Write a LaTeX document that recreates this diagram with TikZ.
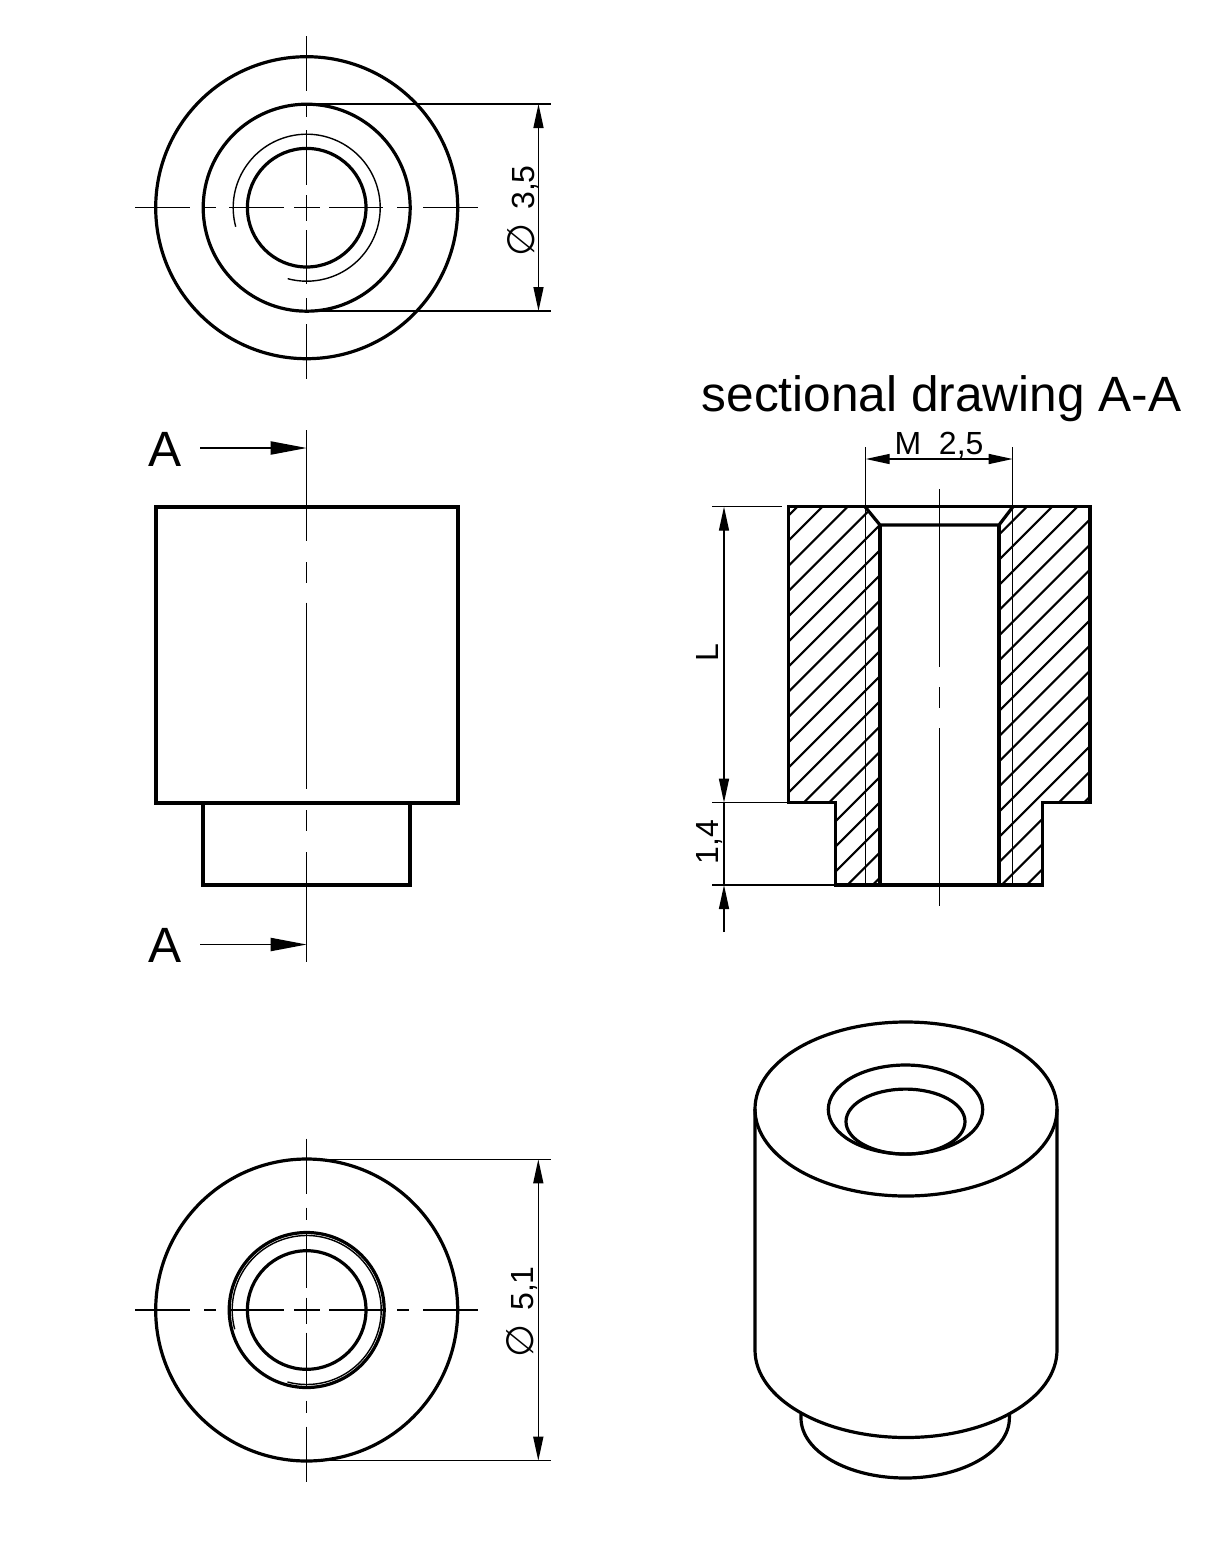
\RequirePackage{fix-cm}
\documentclass[tikz,border=0pt]{standalone}
\usepackage{fontspec}
\setmainfont{Liberation Sans}
\newfontfamily\phifont{DejaVu Sans}
\newcommand{\diam}{{\phifont\fontsize{19}{19}\selectfont ∅}}
\usetikzlibrary{arrows.meta}
\tikzset{
  outl/.style={line width=1.6pt,line join=miter},
  thinl/.style={line width=0.7pt},
  hatchl/.style={line width=1.05pt},
  dimarrow/.style={line width=0.7pt,{Triangle[length=12pt,width=5pt]}-{Triangle[length=12pt,width=5pt]}},
  endarrow/.style={line width=0.7pt,-{Triangle[length=12pt,width=5pt]}},
  cutarrow/.style={line width=0.7pt,-{Triangle[length=18pt,width=6.6pt]}},
  roundcl/.style={thinl,dash pattern=on 27.5pt off 7pt on 6pt off 6.5pt on 27.5pt off 5pt on 13pt off 4.5pt on 27pt off 7pt on 6pt off 7pt on 27.5pt},
  sidecl/.style={thinl,dash pattern=on 55.5pt off 10.5pt on 10.5pt off 9.75pt on 93.25pt off 10.5pt on 10.5pt off 10.5pt on 60pt},
  sectcl/.style={thinl,dash pattern=on 89pt off 10pt on 10.5pt off 10pt on 89pt},
  dimtext/.style={inner sep=0pt,anchor=base,font=\fontsize{16}{18}\selectfont},
  bigtext/.style={inner sep=0pt,anchor=base,font=\fontsize{24.8}{28}\selectfont}
}
\begin{document}
\begin{tikzpicture}[x=0.5pt,y=-0.5pt]
\useasboundingbox (0,0) rectangle (1229,1558);
% ---------- top view
\coordinate (tc) at (306.7,207.7);
\draw[outl] (tc) circle[radius=151];
\draw[outl] (tc) circle[radius=103.5];
\draw[outl] (tc) circle[radius=59.3];
\draw[thinl] (tc) ++(-195:73.5) arc[start angle=-195,end angle=105,radius=73.5];
\draw[roundcl] (135,207.7) -- (478,207.7);
\draw[roundcl] (306.7,36) -- (306.7,379);
\coordinate (ta) at (551,104);
\coordinate (tb) at (551,311);
\draw[thinl] (306.7,104) -- (ta);
\draw[thinl] (306.7,311) -- (tb);
\draw[dimarrow] (538.5,104) -- (538.5,311);
\node[dimtext,rotate=90] (dimA) at (534,211) {\diam\hspace{7pt}3,5};
% ---------- side view
\draw[outl] (156,507) rectangle (458,803);
\draw[outl] (203,803) -- (203,885) -- (410,885) -- (410,803);
\draw[sidecl] (306.7,430) -- (306.7,962);
\coordinate (a1) at (306.7,448);
\coordinate (a2) at (306.7,944.5);
\draw[cutarrow] (200,448) -- (a1);
\draw[cutarrow] (200,944.5) -- (a2);
\node[bigtext] (lblA1) at (165,466) {A};
\node[bigtext] (lblA2) at (165,962) {A};
% ---------- section
\node[bigtext] (title) at (941.5,411) {sectional drawing A-A};
\begin{scope}
\clip (788.3,506.7) -- (865,506.7) -- (880,525) -- (880,885) -- (835.7,885) -- (835.7,802.7) -- (788.3,802.7) -- cycle;
\foreach \k in {0,...,18} {
  \pgfmathsetmacro\c{1304+25.2*\k}
  \draw[hatchl] ({700},{\c-700}) -- ({1200},{\c-1200});
}
\end{scope}
\begin{scope}
\clip (1013,506.7) -- (999,525) -- (999,885) -- (1042.7,885) -- (1042.7,802.7) -- (1090,802.7) -- (1090,506.7) -- cycle;
\foreach \k in {-5,...,13} {
  \pgfmathsetmacro\c{1609.3+25.2*\k}
  \draw[hatchl] ({900},{\c-900}) -- ({1200},{\c-1200});
}
\end{scope}
\draw[outl] (788.3,506.7) -- (1090,506.7) -- (1090,802.7) -- (1042.7,802.7) -- (1042.7,885) -- (835.7,885) -- (835.7,802.7) -- (788.3,802.7) -- cycle;
\draw[outl] (865,506.7) -- (880,525) -- (999,525) -- (1013,506.7);
\draw[outl] (880,525) -- (880,885);
\draw[outl] (999,525) -- (999,885);
\draw[thinl] (865.7,447) -- (865.7,885);
\draw[thinl] (1012.7,447) -- (1012.7,885);
\draw[sectcl] (939.3,489) -- (939.3,906);
\draw[dimarrow] (865.7,459) -- (1012.7,459);
\node[dimtext] (dimM) at (939,454) {M\ \ 2,5};
\draw[thinl] (712,506.7) -- (782,506.7);
\draw[thinl] (712,802.7) -- (788.3,802.7);
\draw[thinl] (712,885) -- (835.7,885);
\draw[dimarrow] (724,506.7) -- (724,802.7);
\draw[thinl] (724,802.7) -- (724,885);
\coordinate (tail) at (724,932);
\draw[endarrow] (tail) -- (724,885);
\node[dimtext,rotate=90] (dimL) at (718,653) {L};
\node[dimtext,rotate=90] (dimS) at (718,842) {1,4};
% ---------- bottom view
\coordinate (bc) at (306.7,1310);
\draw[outl] (bc) circle[radius=151];
\draw[outl] (bc) circle[radius=77.5];
\draw[outl] (bc) circle[radius=59.3];
\draw[thinl] (bc) ++(-195:74.5) arc[start angle=-195,end angle=105,radius=74.5];
\draw[roundcl] (135,1310) -- (478,1310);
\draw[roundcl] (306.7,1138.5) -- (306.7,1481.5);
\draw[thinl] (306.7,1159.3) -- (551,1159.3);
\draw[thinl] (306.7,1460.7) -- (551,1460.7);
\draw[dimarrow] (538.3,1159.3) -- (538.3,1460.7);
\node[dimtext,rotate=90] (dimB) at (533,1312) {\diam\hspace{7pt}5,1};
% ---------- isometric view
\draw[outl] (801,1414) -- (801,1418) arc[start angle=180,end angle=0,x radius=104.2,y radius=60] -- (1009.4,1414);
\draw[outl] (755,1109) -- (755,1350) arc[start angle=180,end angle=0,x radius=151,y radius=87.5] -- (1057,1109);
\draw[outl] (906,1109) ellipse[x radius=151,y radius=87];
\draw[outl] (905.5,1109.5) ellipse[x radius=77.2,y radius=44.5];
\draw[outl] (905.5,1121.6) ellipse[x radius=59.5,y radius=32.5];
\end{tikzpicture}
\end{document}
